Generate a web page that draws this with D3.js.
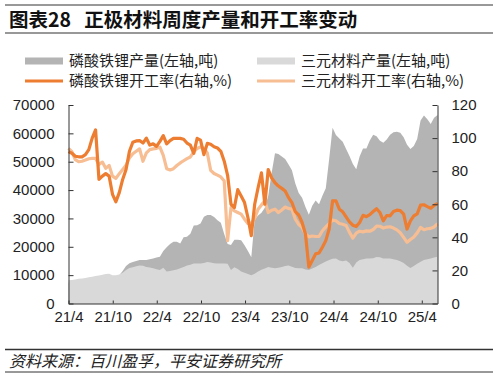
<!DOCTYPE html>
<meta charset="utf-8">
<style>
body { margin: 0; background: #fff; }
svg { display: block; font-family: "Liberation Sans", Arial, sans-serif; }
.cjk { font-family: "Noto Sans CJK SC", "Noto Sans", sans-serif; }
.tick text { font-size: 15px; fill: #222; }
.axis path, .axis line { stroke: #333; }
</style>
<body>
<script src="https://cdn.jsdelivr.net/npm/d3@7"></script>
<script>

// weekly data sampled every two weeks, from 2021-04-01
var startDate = new Date(2021, 3, 1);

// 磷酸铁锂产量 (千吨)
var lfpOutput = [7.4,7.5,7.7,7.9,8.0,8.2,8.5,8.6,8.9,9.1,9.3,9.6,9.7,9.2,9.4,10.0,11.5,13.2,14.2,14.6,
  15.0,15.3,15.3,15.3,15.6,15.9,16.2,16.5,18.5,19.8,21.0,21.8,21.8,21.2,23.4,23.5,24.6,27.5,27.6,28.2,
  30.6,31.2,31.2,30.5,29.4,28.5,24.5,21.0,20.6,22.5,22.5,22.3,20.5,18.5,16.3,29.6,31.0,32.0,33.8,38.0,
  46.0,53.0,52.7,51.8,51.0,49.0,47.0,42.3,39.0,37.3,34.0,31.3,34.5,36.3,35.0,38.0,40.6,51.0,62.0,59.4,
  58.2,57.0,54.5,52.0,49.2,47.3,51.8,54.7,54.7,57.5,59.5,59.0,57.4,56.7,57.8,59.5,60.4,60.6,60.2,58.6,
  56.0,54.5,55.5,58.0,64.5,66.3,65.0,63.3,65.5,66.5];

// 三元材料产量 (千吨)
var nmcOutput = [8.2,8.3,8.5,8.7,8.8,9.0,9.3,9.4,9.7,9.9,10.1,10.4,10.5,10.0,10.0,10.2,10.8,11.8,12.5,12.8,
  13.1,13.4,13.3,12.9,12.7,12.4,12.1,11.8,12.6,11.3,11.5,11.7,12.0,12.4,12.9,13.4,13.7,14.1,14.1,14.1,
  14.3,14.6,14.5,14.2,14.1,14.1,14.1,14.0,11.8,12.8,12.2,11.3,10.8,10.4,10.0,10.5,11.3,11.9,12.3,12.9,
  12.6,12.4,12.6,12.9,13.2,13.4,13.0,12.5,12.4,12.4,12.0,11.8,12.3,12.9,13.6,14.2,14.8,15.3,15.8,15.9,
  15.2,14.9,15.2,14.3,12.6,14.5,15.3,15.6,15.9,15.9,16.0,16.4,16.3,15.9,15.9,15.9,15.6,15.3,14.9,14.3,
  13.3,12.5,13.2,14.0,14.7,15.3,15.6,15.9,16.2,16.5];

// 磷酸铁锂开工率 (%)
var lfpRate = [91.8,90.8,89,88.7,88.7,90,93,100,104.9,75,77,78.5,77,66,61.5,67,75,81,92,97.5,
  98.3,98.5,97,100,95.8,96.5,95,98,101.5,96.5,98.5,99.8,99.8,99.8,99.3,97,95.8,90.8,99.8,98.8,
  90,96.8,96.3,94.8,94,92,86,77.5,60,58,68.8,65,61,52,41,60,70,79,60,81,
  76,73,71,69.6,68,64,61,55.5,53.5,49,42,22,26,30,30.5,34,38,45,62,62,
  57,55.4,52.3,49.3,47.3,46.5,49,53.3,52.5,53.7,55.6,57.3,55,50,53.2,53,55.6,56.4,56.2,54,
  45,50,53,54.2,59.5,59.7,58.6,57.6,59.3,60.5];

// 三元材料开工率 (%)
var nmcRate = [93.8,91.8,87,85.7,86,86.7,87.5,87.7,87.7,84,85.5,81.7,83.5,77,75.6,78.5,81,83.5,88,90.5,
  92,93.5,86,91,93,93.5,93.8,94.5,89.5,81.5,80.7,81.5,83.4,85,86.3,87.6,88.6,91.6,93.7,94.7,
  93.8,91,80.5,78.6,77.6,76.5,74,38,58,56,55,54,51,48.4,48.6,51.5,57,59.6,62,55,
  56.4,57,55,56.5,58.3,57.5,57,51,47.8,46,42,40.3,40.8,40.5,40.5,44,46.3,48.3,50.4,50,
  48.4,47.9,47.2,43,39.5,42.5,43.7,43.3,43.9,43.7,44.7,46.8,46.7,45.6,46.2,46.4,45.6,44.5,42.8,40,
  37,38.7,40.2,42.7,46,44.6,45.2,45.4,46.3,48.2];

var tickLabels = ["21/4","21/10","22/4","22/10","23/4","23/10","24/4","24/10","25/4"];
var leftTicks = [0,10000,20000,30000,40000,50000,60000,70000];
var rightTicks = [0,20,40,60,80,100,120];

var legendItems = [
  {name: "磷酸铁锂产量(左轴,吨)", type: "area", color: "#b4b4b4"},
  {name: "三元材料产量(左轴,吨)", type: "area", color: "#d9d9d9"},
  {name: "磷酸铁锂开工率(右轴,%)", type: "line", color: "#ed7d31"},
  {name: "三元材料开工率(右轴,%)", type: "line", color: "#f7bd93"}
];

var W = 493, H = 377;
var plotL = 68.5, plotR = 437.5, plotT = 105, plotB = 303.5;

function dateAt(i) { return d3.timeDay.offset(startDate, i * 14); }

var rows = lfpOutput.map(function(v, i) {
  return {date: dateAt(i), lfp: v * 1000, nmc: nmcOutput[i] * 1000, lfpRate: lfpRate[i], nmcRate: nmcRate[i]};
});

var x = d3.scaleTime()
    .domain([startDate, rows[rows.length - 1].date])
    .range([plotL, plotR]);
var y0 = d3.scaleLinear().domain([0, 70000]).range([plotB, plotT]);
var y1 = d3.scaleLinear().domain([0, 120]).range([plotB, plotT]);

var svg = d3.select("body").append("svg")
    .attr("width", W)
    .attr("height", H);

// title block
svg.append("line").attr("x1", 5).attr("x2", W).attr("y1", 5).attr("y2", 5)
    .attr("stroke", "#333").attr("stroke-width", 1);
svg.append("text").attr("class", "cjk")
    .attr("x", 9).attr("y", 27)
    .style("font-size", "19.5px").style("font-weight", "bold").attr("fill", "#111")
    .attr("xml:space", "preserve")
    .text("图表28   正极材料周度产量和开工率变动");
svg.append("line").attr("x1", 5).attr("x2", W).attr("y1", 33).attr("y2", 33)
    .attr("stroke", "#333").attr("stroke-width", 1.2);

// areas
var areaLfp = d3.area()
    .x(function(d) { return x(d.date); })
    .y0(plotB)
    .y1(function(d) { return y0(d.lfp); });
var areaNmc = d3.area()
    .x(function(d) { return x(d.date); })
    .y0(plotB)
    .y1(function(d) { return y0(d.nmc); });

svg.append("path").datum(rows).attr("fill", "#b4b4b4").attr("d", areaLfp);
svg.append("path").datum(rows).attr("fill", "#d9d9d9").attr("d", areaNmc);

// lines
var lineLfp = d3.line()
    .x(function(d) { return x(d.date); })
    .y(function(d) { return y1(d.lfpRate); });
var lineNmc = d3.line()
    .x(function(d) { return x(d.date); })
    .y(function(d) { return y1(d.nmcRate); });

svg.append("path").datum(rows).attr("fill", "none")
    .attr("stroke", "#f7bd93").attr("stroke-width", 3.2).attr("stroke-linejoin", "round")
    .attr("d", lineNmc);
svg.append("path").datum(rows).attr("fill", "none")
    .attr("stroke", "#ed7d31").attr("stroke-width", 3.2).attr("stroke-linejoin", "round")
    .attr("d", lineLfp);

// axes
var tickDates = tickLabels.map(function(t) {
  var p = t.split("/");
  return new Date(2000 + +p[0], +p[1] - 1, 1);
});

svg.append("g")
    .attr("class", "axis")
    .attr("transform", "translate(0," + plotB + ")")
    .call(d3.axisBottom(x).tickValues(tickDates).tickSizeInner(-3).tickSizeOuter(0)
      .tickPadding(8).tickFormat(function(d, i) { return tickLabels[i]; }));

svg.append("g")
    .attr("class", "axis")
    .attr("transform", "translate(" + plotL + ",0)")
    .call(d3.axisLeft(y0).tickValues(leftTicks).tickSizeInner(-5).tickSizeOuter(0)
      .tickPadding(14).tickFormat(d3.format("d")));

svg.append("g")
    .attr("class", "axis")
    .attr("transform", "translate(" + plotR + ",0)")
    .call(d3.axisRight(y1).tickValues(rightTicks).tickSizeInner(-5).tickSizeOuter(0)
      .tickPadding(14));

// legend
var legend = svg.append("g");
legendItems.forEach(function(d, i) {
  var lx = i % 2 === 0 ? 25 : 257;
  var ly = i < 2 ? 61 : 81;
  if (d.type === "area") {
    legend.append("rect").attr("x", lx).attr("y", ly - 3.5).attr("width", 38).attr("height", 7)
      .attr("fill", d.color);
  } else {
    legend.append("line").attr("x1", lx).attr("x2", lx + 38).attr("y1", ly).attr("y2", ly)
      .attr("stroke", d.color).attr("stroke-width", 3);
  }
  legend.append("text").attr("class", "cjk")
    .attr("x", lx + 44).attr("y", ly).attr("dy", "0.35em")
    .style("font-size", "15px").attr("fill", "#222")
    .text(d.name);
});

// source
svg.append("line").attr("x1", 5).attr("x2", W).attr("y1", 349.5).attr("y2", 349.5)
    .attr("stroke", "#333").attr("stroke-width", 1.5);
svg.append("text").attr("class", "cjk")
    .attr("x", 9).attr("y", 361).attr("dy", "0.35em")
    .style("font-size", "16px").style("font-style", "italic").attr("fill", "#222")
    .text("资料来源：百川盈孚，平安证券研究所");
svg.append("line").attr("x1", 5).attr("x2", W).attr("y1", 372).attr("y2", 372)
    .attr("stroke", "#333").attr("stroke-width", 1);

</script>
</body>
